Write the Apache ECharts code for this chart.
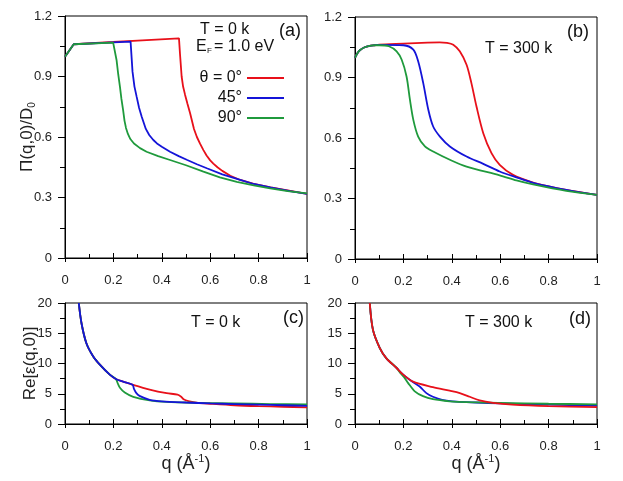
<!DOCTYPE html>
<html>
<head>
<meta charset="UTF-8">
<title></title>
<script src="https://cdn.jsdelivr.net/npm/echarts@6/dist/echarts.min.js"></script>
<style>
* { margin: 0; padding: 0; }
#app { width: 623px; height: 481px; background: #fff; }
</style>
</head>
<body>
<div id="app"></div>
<script type="text/javascript">
var names = ['θ = 0°', '45°', '90°'];
var colors = ['#e8101a', '#1414d8', '#1f9a3c'];

// (a) Pi(q,0)/D0, T = 0 k
var piT0Red = [[0,0.998],[0.036,1.06],[0.2,1.071],[0.3,1.078],[0.471,1.089],[0.475,1.015],[0.482,0.9],[0.488,0.85],[0.496,0.81],[0.506,0.765],[0.517,0.718],[0.533,0.64],[0.545,0.6],[0.558,0.567],[0.572,0.535],[0.585,0.508],[0.6,0.484],[0.613,0.468],[0.63,0.45],[0.65,0.432],[0.683,0.408],[0.724,0.387],[0.78,0.368],[0.85,0.35],[0.92,0.335],[1.0,0.318]];
var piT0Blue = [[0,0.998],[0.036,1.06],[0.2,1.069],[0.271,1.073],[0.279,0.924],[0.287,0.85],[0.296,0.8],[0.306,0.745],[0.317,0.7],[0.334,0.64],[0.348,0.61],[0.365,0.585],[0.38,0.568],[0.4,0.552],[0.434,0.527],[0.47,0.505],[0.503,0.487],[0.545,0.465],[0.586,0.445],[0.65,0.415],[0.724,0.387],[0.78,0.367],[0.848,0.35],[0.93,0.332],[1.0,0.318]];
var piT0Green = [[0,0.998],[0.036,1.06],[0.199,1.068],[0.213,0.982],[0.22,0.91],[0.227,0.85],[0.233,0.79],[0.24,0.734],[0.246,0.68],[0.252,0.645],[0.26,0.615],[0.27,0.59],[0.285,0.568],[0.31,0.545],[0.337,0.527],[0.385,0.505],[0.434,0.486],[0.5,0.46],[0.572,0.428],[0.64,0.4],[0.71,0.378],[0.78,0.36],[0.848,0.345],[0.92,0.332],[1.0,0.32]];

// (b) Pi(q,0)/D0, T = 300 k
var piT300Red = [[0,0.997],[0.01,1.02],[0.02,1.035],[0.04,1.05],[0.06,1.057],[0.08,1.06],[0.1,1.063],[0.2,1.068],[0.3,1.073],[0.35,1.074],[0.38,1.072],[0.406,1.063],[0.433,1.03],[0.461,0.963],[0.481,0.872],[0.502,0.756],[0.53,0.624],[0.564,0.525],[0.598,0.467],[0.653,0.417],[0.736,0.379],[0.805,0.359],[0.873,0.343],[1.0,0.318]];
var piT300Blue = [[0,0.997],[0.01,1.02],[0.02,1.035],[0.04,1.05],[0.06,1.057],[0.08,1.06],[0.1,1.062],[0.2,1.06],[0.241,1.038],[0.261,0.98],[0.282,0.872],[0.303,0.74],[0.323,0.657],[0.351,0.607],[0.392,0.558],[0.461,0.508],[0.53,0.472],[0.598,0.434],[0.667,0.405],[0.736,0.378],[0.873,0.343],[1.0,0.318]];
var piT300Green = [[0,0.997],[0.01,1.02],[0.02,1.035],[0.04,1.05],[0.06,1.057],[0.08,1.06],[0.1,1.06],[0.14,1.055],[0.172,1.03],[0.193,0.988],[0.213,0.905],[0.227,0.79],[0.241,0.69],[0.261,0.607],[0.289,0.558],[0.323,0.533],[0.392,0.492],[0.461,0.458],[0.598,0.415],[0.667,0.39],[0.736,0.37],[0.873,0.338],[1.0,0.318]];

// (c) Re[eps(q,0)], T = 0 k
var epsT0Red = [[0.057,20],[0.068,16.7],[0.088,13.4],[0.116,11.2],[0.144,9.8],[0.185,8.15],[0.21,7.45],[0.24,7.0],[0.279,6.5],[0.35,5.7],[0.42,5.1],[0.465,4.85],[0.48,4.5],[0.49,4.1],[0.51,3.8],[0.55,3.5],[0.6,3.35],[0.7,3.1],[0.8,2.95],[0.9,2.85],[1.0,2.75]];
var epsT0Green = [[0.057,20],[0.068,16.7],[0.088,13.4],[0.116,11.2],[0.144,9.8],[0.185,8.15],[0.21,7.45],[0.218,6.7],[0.227,6.0],[0.247,5.2],[0.282,4.5],[0.35,3.9],[0.42,3.65],[0.55,3.5],[0.7,3.4],[0.85,3.3],[1.0,3.25]];
var epsT0Blue = [[0.057,20],[0.068,16.7],[0.088,13.4],[0.116,11.2],[0.144,9.8],[0.185,8.15],[0.21,7.45],[0.24,7.0],[0.279,6.5],[0.285,5.8],[0.295,5.1],[0.31,4.6],[0.35,4.0],[0.4,3.75],[0.5,3.55],[0.6,3.4],[0.7,3.3],[0.8,3.2],[0.9,3.1],[1.0,3.0]];

// (d) Re[eps(q,0)], T = 300 k
var epsT300Blue = [[0.061,20],[0.074,15.6],[0.102,12.6],[0.129,10.9],[0.171,9.3],[0.198,8.2],[0.226,7.3],[0.267,6.2],[0.295,5.1],[0.322,4.5],[0.36,4.0],[0.42,3.7],[0.5,3.55],[0.6,3.4],[0.8,3.2],[1.0,3.0]];
var epsT300Green = [[0.061,20],[0.074,15.6],[0.102,12.6],[0.129,10.9],[0.171,9.3],[0.19,8.3],[0.205,7.6],[0.219,6.8],[0.247,5.4],[0.281,4.6],[0.322,4.1],[0.391,3.75],[0.46,3.6],[0.6,3.5],[0.8,3.35],[1.0,3.25]];
var epsT300Red = [[0.061,20],[0.074,15.6],[0.102,12.6],[0.129,10.9],[0.171,9.3],[0.198,8.2],[0.24,7.0],[0.322,6.1],[0.391,5.5],[0.433,5.1],[0.474,4.5],[0.515,3.9],[0.57,3.5],[0.65,3.2],[0.8,2.95],[1.0,2.8]];

var font = 'Liberation Sans, Arial, sans-serif';
var myChart = echarts.init(document.getElementById('app'));

function xAx(gi, withName) {
  var ax = {
    type: 'value', gridIndex: gi, min: 0, max: 1, interval: 0.2,
    axisLine: { lineStyle: { color: '#000', width: 1 } },
    axisTick: { inside: true, length: 5, lineStyle: { color: '#000' } },
    minorTick: { show: true, splitNumber: 2, length: 4, lineStyle: { color: '#000' } },
    splitLine: { show: false },
    axisLabel: { color: '#222', fontSize: 13, fontFamily: font, margin: 16 }
  };
  if (withName) {
    ax.name = 'q (Å{s|-1})';
    ax.nameLocation = 'middle';
    ax.nameGap = 29;
    ax.nameMoveOverlap = false;
    ax.nameTextStyle = { color: '#222', fontSize: 18, fontFamily: font,
      rich: { s: { fontSize: 11, fontFamily: font, color: '#222', verticalAlign: 'top', lineHeight: 22 } } };
  }
  return ax;
}

// outward half of the major x ticks (they cross the axis line)
function xOut(gi) {
  return {
    type: 'value', gridIndex: gi, min: 0, max: 1, interval: 0.2, position: 'bottom',
    axisLine: { show: false },
    axisTick: { show: true, inside: false, length: 4, lineStyle: { color: '#000' } },
    axisLabel: { show: false }, splitLine: { show: false }
  };
}

function yAx(gi, max, step, name, gap, size) {
  var ax = {
    type: 'value', gridIndex: gi, min: 0, max: max, interval: step,
    axisLine: { show: true, lineStyle: { color: '#000', width: 1 } },
    axisTick: { show: true, inside: false, length: 7, lineStyle: { color: '#000' } },
    minorTick: { show: true, splitNumber: 2, length: 5, lineStyle: { color: '#000' } },
    splitLine: { show: false },
    axisLabel: { color: '#222', fontSize: 13, fontFamily: font, margin: 13 }
  };
  if (name) {
    ax.name = name;
    ax.nameLocation = 'middle';
    ax.nameGap = gap;
    ax.nameMoveOverlap = false;
    ax.nameTextStyle = { color: '#222', fontSize: size, fontFamily: font,
      rich: { s: { fontSize: 10, fontFamily: font, color: '#222', verticalAlign: 'bottom', lineHeight: 20 } } };
  }
  return ax;
}

function line(name, color, gi, data, smooth) {
  return {
    name: name, type: 'line', xAxisIndex: gi, yAxisIndex: gi,
    data: data, symbol: 'none', smooth: smooth,
    lineStyle: { color: color, width: 1.8 }, itemStyle: { color: color }
  };
}

function label(x, y, text, size) {
  return { type: 'text', x: x, y: y,
    style: { text: text, fontSize: size, fontFamily: font, fill: '#111', verticalAlign: 'middle' } };
}

var option = {
  animation: false,
  backgroundColor: '#fff',
  grid: [
    { left: 65, top: 16, width: 242, height: 242, show: true, borderColor: '#000', borderWidth: 1 },
    { left: 355, top: 17, width: 242, height: 242, show: true, borderColor: '#000', borderWidth: 1 },
    { left: 65, top: 303, width: 242, height: 121, show: true, borderColor: '#000', borderWidth: 1 },
    { left: 355, top: 303, width: 242, height: 121, show: true, borderColor: '#000', borderWidth: 1 }
  ],
  xAxis: [xAx(0, false), xAx(1, false), xAx(2, true), xAx(3, true), xOut(0), xOut(1), xOut(2), xOut(3)],
  yAxis: [
    yAx(0, 1.2, 0.3, 'Π(q,0)/D{s|0}', 28, 17),
    yAx(1, 1.2, 0.3, null),
    yAx(2, 20, 5, 'Re[ε(q,0)]', 26, 17),
    yAx(3, 20, 5, null)
  ],
  legend: {
    data: names, orient: 'vertical', align: 'right', right: 334, top: 63,
    icon: 'rect', itemWidth: 37, itemHeight: 2, itemGap: 0,
    textStyle: { fontSize: 16, fontFamily: font, color: '#111', lineHeight: 20 }
  },
  graphic: [
    label(200, 30, 'T = 0 k', 16),
    label(279, 31, '(a)', 18),
    label(196, 47, 'E', 16),
    label(207, 51, 'F', 8),
    label(214, 47, '= 1.0 eV', 16),
    label(567, 32, '(b)', 18),
    label(485, 49, 'T = 300 k', 16),
    label(283, 318, '(c)', 18),
    label(191, 323, 'T = 0 k', 16),
    label(569, 319, '(d)', 18),
    label(465, 323, 'T = 300 k', 16)
  ],
  series: [
    line(names[0], colors[0], 0, piT0Red, false),
    line(names[1], colors[1], 0, piT0Blue, false),
    line(names[2], colors[2], 0, piT0Green, false),
    line(names[0], colors[0], 1, piT300Red, 0.3),
    line(names[1], colors[1], 1, piT300Blue, 0.3),
    line(names[2], colors[2], 1, piT300Green, 0.3),
    line(names[0], colors[0], 2, epsT0Red, 0.3),
    line(names[2], colors[2], 2, epsT0Green, 0.3),
    line(names[1], colors[1], 2, epsT0Blue, 0.3),
    line(names[1], colors[1], 3, epsT300Blue, 0.3),
    line(names[2], colors[2], 3, epsT300Green, 0.3),
    line(names[0], colors[0], 3, epsT300Red, 0.3)
  ]
};

myChart.setOption(option);
</script>
</body>
</html>
